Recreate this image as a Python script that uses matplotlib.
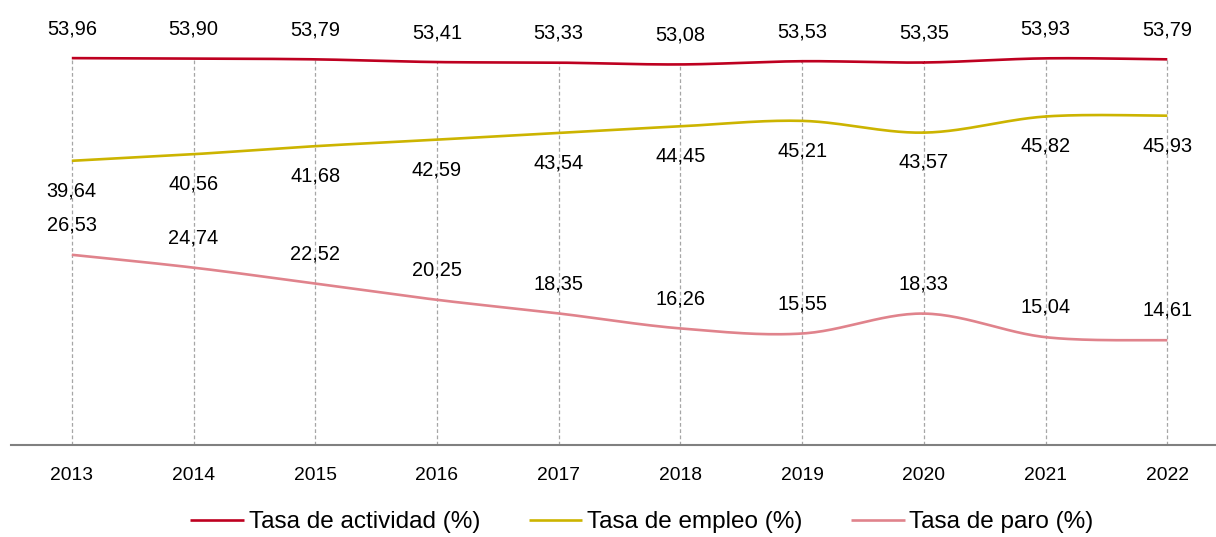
import numpy as np
import matplotlib
matplotlib.use('Agg')
import matplotlib.pyplot as plt

plt.rcParams['font.family'] = ['Liberation Sans', 'DejaVu Sans']

years = ['2013', '2014', '2015', '2016', '2017', '2018', '2019', '2020', '2021', '2022']
tasa_actividad = [53.96, 53.90, 53.79, 53.41, 53.33, 53.08, 53.53, 53.35, 53.93, 53.79]
tasa_empleo = [39.64, 40.56, 41.68, 42.59, 43.54, 44.45, 45.21, 43.57, 45.82, 45.93]
tasa_paro = [26.53, 24.74, 22.52, 20.25, 18.35, 16.26, 15.55, 18.33, 15.04, 14.61]


def smooth(x, y, n=30):
    # Catmull-Rom curve through the points, like Excel's smoothed lines
    x = np.asarray(x, float)
    y = np.asarray(y, float)
    px = np.concatenate([[x[0]], x, [x[-1]]])
    py = np.concatenate([[y[0]], y, [y[-1]]])
    xs, ys = [], []
    t = np.linspace(0, 1, n)
    for i in range(1, len(px) - 2):
        for p, out in ((px, xs), (py, ys)):
            p0, p1, p2, p3 = p[i - 1], p[i], p[i + 1], p[i + 2]
            out.extend(0.5 * ((2 * p1) + (-p0 + p2) * t
                              + (2 * p0 - 5 * p1 + 4 * p2 - p3) * t ** 2
                              + (-p0 + 3 * p1 - 3 * p2 + p3) * t ** 3))
    return xs, ys


fig = plt.figure(figsize=(12.16, 5.37), dpi=100)
ax = fig.add_axes([0.009, 0.1713, 0.991, 0.8011])

x = np.arange(len(years))

series = [
    (tasa_actividad, '#BE0020', 'Tasa de actividad (%)', 21),
    (tasa_empleo, '#CCB400', 'Tasa de empleo (%)', -21.5),
    (tasa_paro, '#E0838C', 'Tasa de paro (%)', 21.5),
]

# drop lines from the top series to the axis
ax.vlines(x, 0, tasa_actividad, colors='#A6A6A6', linestyles=(0, (3, 2)), linewidth=0.9, zorder=1)

for values, color, label, off in series:
    sx, sy = smooth(x, values)
    ax.plot(sx, sy, color=color, linewidth=1.9, label=label, zorder=3, solid_capstyle='butt')
    for xi, v in zip(x, values):
        ax.annotate(f'{v:.2f}'.replace('.', ','), (xi, v), textcoords='offset points',
                    xytext=(0, off), ha='center', va='center', fontsize=14.4, color='#000000')

ax.set_xlim(-0.5, 9.4)
ax.set_ylim(0, 60)
ax.set_xticks(x)
ax.set_xticklabels(years, fontsize=13.9)
ax.set_yticks([])
ax.tick_params(axis='x', length=0, pad=16)
for s in ['top', 'right', 'left']:
    ax.spines[s].set_visible(False)
ax.spines['bottom'].set_color('#808080')
ax.spines['bottom'].set_linewidth(1.5)

fig.legend(loc='center', bbox_to_anchor=(642 / 1216, 1 - 522 / 537), ncol=3, frameon=False,
           fontsize=17.5, handlelength=2.2, handletextpad=0.2, columnspacing=2.0,
           borderpad=0, borderaxespad=0)

fig.savefig('out.png', dpi=100)
